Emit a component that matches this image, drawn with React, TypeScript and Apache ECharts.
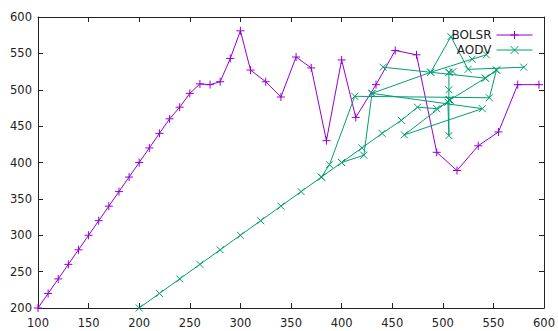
import React, { useEffect, useRef } from "react";
import * as echarts from "echarts";

const bolsrX = [100, 110, 120, 130, 140, 150, 160, 170, 180, 190, 200, 210, 220, 230, 240, 250, 260, 270, 280, 290, 300, 310, 325, 340, 355, 370, 385, 400, 414, 434, 453, 474, 494, 514, 535, 555, 574, 595];
const bolsrY = [200, 220, 240, 260, 280, 300, 320, 340, 360, 380, 400, 420, 440, 460, 476, 495, 508, 507, 511, 543, 581, 527, 511, 490, 545, 530, 430, 541, 462, 507, 554, 548, 414, 389, 423, 442, 507, 507];

// AODV: several traced chains; null marks a break between chains
const aodvX = [200, 220, 240, 260, 280, 300, 320, 340, 360, 380, 388, 413, 546, 553, 542, 441, null,
  380, 400, 422, 430, 539, 462, 507, null,
  400, 420, 440, 459, 475, 494, 505, 506, 506, 506, 506, null,
  430, 488, 508, 525, 580, null,
  488, 529, 543, null,
  507, 542, 553, null,
  510, 506];
const aodvY = [200, 220, 240, 260, 280, 300, 320, 340, 360, 380, 397, 491, 489, 527, 516, 531, null,
  380, 400, 410, 495, 474, 438, 486, null,
  400, 420, 440, 458, 476, 474, 483, 437, 486, 500, 524, null,
  495, 524, 573, 528, 531, null,
  524, 542, 548, null,
  486, 516, 527, null,
  525, 524];

const xTicks = [100, 600, 50];
const yTicks = [200, 600, 50];

const PURPLE = "#9400d3";
const GREEN = "#009e73";
const PLUS = "path://M0,5L10,5M5,0L5,10";
const CROSS = "path://M0,0L10,10M10,0L0,10";

export default function App() {
  const ref = useRef<HTMLDivElement>(null);
  useEffect(() => {
    document.body.style.margin = "0";
    const chart = echarts.init(ref.current!, null, { renderer: "svg" });
    const bolsr = bolsrX.map((x, i) => [x, bolsrY[i]]);
    const aodv = aodvX.map((x, i) => (x === null ? "-" : [x, aodvY[i]]));
    const font = "DejaVu Sans";
    const axisLine = { show: true, lineStyle: { color: "#222", width: 1 } };
    const tick = { show: true, inside: true, length: 5, lineStyle: { color: "#222" } };
    chart.setOption({
      animation: false,
      grid: { left: 38, right: 12, top: 17, bottom: 23, containLabel: false },
      legend: {
        orient: "vertical",
        right: 20,
        top: 24,
        align: "right",
        itemWidth: 36,
        itemHeight: 10,
        itemGap: 3,
        lineStyle: { width: 1 },
        itemStyle: { borderWidth: 1 },
        textStyle: { fontFamily: font, fontSize: 12, color: "#222", padding: [0, 0, 0, 0] },
        data: ["BOLSR", "AODV"],
      },
      xAxis: [
        {
          type: "value", min: xTicks[0], max: xTicks[1], interval: xTicks[2], position: "bottom",
          axisLine, axisTick: tick, splitLine: { show: false },
          axisLabel: { fontFamily: font, fontSize: 11.5, color: "#222", margin: 9 },
        },
        {
          type: "value", min: xTicks[0], max: xTicks[1], interval: xTicks[2], position: "top",
          axisLine, axisTick: tick, splitLine: { show: false }, axisLabel: { show: false },
        },
      ],
      yAxis: [
        {
          type: "value", min: yTicks[0], max: yTicks[1], interval: yTicks[2], position: "left",
          axisLine, axisTick: tick, splitLine: { show: false },
          axisLabel: { fontFamily: font, fontSize: 11.5, color: "#222", margin: 6 },
        },
        {
          type: "value", min: yTicks[0], max: yTicks[1], interval: yTicks[2], position: "right",
          axisLine, axisTick: tick, splitLine: { show: false }, axisLabel: { show: false },
        },
      ],
      series: [
        {
          name: "BOLSR", type: "line", data: bolsr, symbol: PLUS, symbolSize: 8,
          showAllSymbol: true,
          lineStyle: { color: PURPLE, width: 1 },
          itemStyle: { color: "rgba(0,0,0,0)", borderColor: PURPLE, borderWidth: 1 },
          color: PURPLE,
        },
        {
          name: "AODV", type: "line", data: aodv, symbol: CROSS, symbolSize: 7,
          showAllSymbol: true, connectNulls: false,
          lineStyle: { color: GREEN, width: 1 },
          itemStyle: { color: "rgba(0,0,0,0)", borderColor: GREEN, borderWidth: 1 },
          color: GREEN,
        },
      ],
    });
    return () => chart.dispose();
  }, []);
  return <div ref={ref} style={{ width: 558, height: 331 }} />;
}
